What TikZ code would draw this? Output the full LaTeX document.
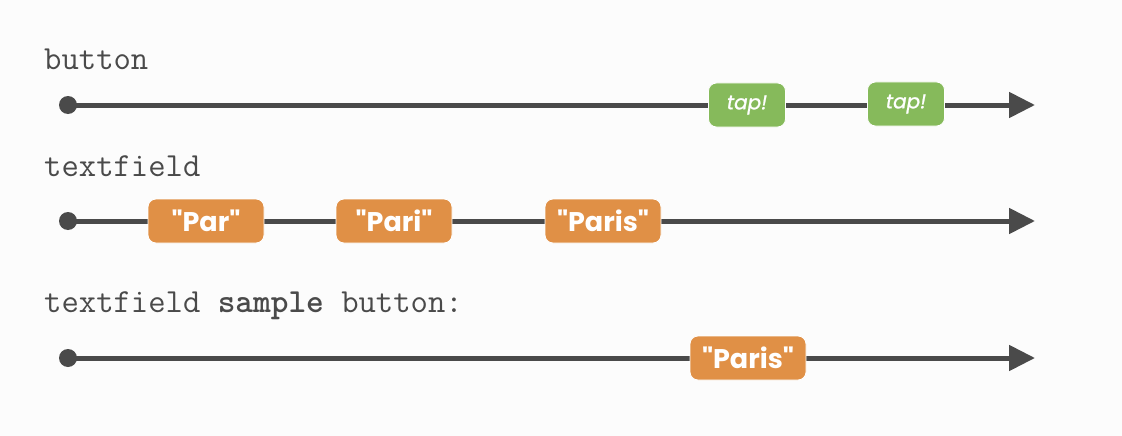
\documentclass[tikz,border=0pt]{standalone}
\usepackage{fontspec}
\setmainfont{Poppins}[Ligatures=TeXOff]
\newfontfamily\tapfont{Poppins}[ItalicFeatures={FakeBold=1}]
\usetikzlibrary{arrows.meta}
\definecolor{bg}{HTML}{FCFCFC}
\definecolor{linec}{HTML}{4A4A4A}
\definecolor{tapgreen}{HTML}{86BA5B}
\definecolor{valorange}{HTML}{E09046}
\definecolor{labelc}{HTML}{4A4A4A}
\newcommand{\dq}{\symbol{34}}
\tikzset{
  timeline/.style={draw=linec, line width=5pt, -{Triangle[length=26pt,width=25pt]}},
  startdot/.style={circle, fill=linec, inner sep=0pt, minimum size=18pt},
  tapbox/.style={rounded corners=8pt, fill=tapgreen, draw=white, line width=0.8pt, text=white, minimum width=77pt, minimum height=44pt, inner sep=0pt, font=\fontsize{20}{20}\tapfont\itshape},
  valbox/.style={rounded corners=8pt, fill=valorange, draw=white, line width=0.8pt, text=white, minimum width=116pt, minimum height=44pt, inner sep=0pt, font=\fontsize{27}{27}\selectfont\bfseries},
  streamlabel/.style={anchor=base west, text=labelc, inner sep=0pt, font=\fontsize{33.7}{33.7}\selectfont\ttfamily},
}
\begin{document}
\begin{tikzpicture}[x=1pt,y=-1pt]
\fill[bg] (0,0) rectangle (1122,436);
\useasboundingbox (0,0) rectangle (1122,436);
% labels
\node[streamlabel] (l1) at (44,70) {button};
\node[streamlabel] (l2) at (44,176) {textfield};
\node[streamlabel] (l3) at (44,312) {textfield \textbf{sample} button:};
% timeline 1
\node[startdot] (s1) at (68,105) {};
\coordinate (e1) at (1035,105);
\draw[timeline] (s1.center) -- (e1);
\node[tapbox] (t1) at (747,105) {tap!};
\node[tapbox] (t2) at (906,104) {tap!};
% timeline 2
\node[startdot] (s2) at (68,221) {};
\coordinate (e2) at (1035,221);
\draw[timeline] (s2.center) -- (e2);
\node[valbox] (v1) at (206,221) {\dq Par\dq};
\node[valbox] (v2) at (394,221) {\dq Pari\dq};
\node[valbox] (v3) at (603,221) {\dq Paris\dq};
% timeline 3
\node[startdot] (s3) at (68,358) {};
\coordinate (e3) at (1035,358);
\draw[timeline] (s3.center) -- (e3);
\node[valbox] (v4) at (748,358) {\dq Paris\dq};
\end{tikzpicture}
\end{document}
